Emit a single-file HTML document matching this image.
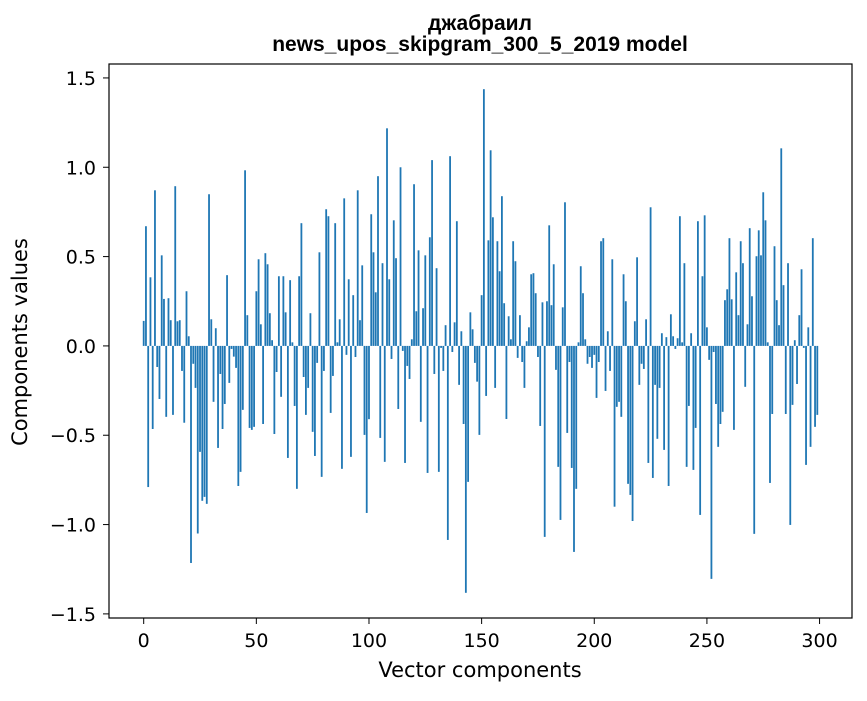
<!DOCTYPE html>
<html><head><meta charset="utf-8"><style>
body{margin:0;background:#fff}
svg text{font-family:"DejaVu Sans","Liberation Sans",sans-serif;fill:#000}
svg text.title{font-family:"Liberation Sans","DejaVu Sans",sans-serif}
</style></head><body>
<svg id="chart" width="867" height="696" xmlns="http://www.w3.org/2000/svg">
<rect width="867" height="696" fill="#fff"/>
<text class="title" x="480" y="30" text-anchor="middle" font-size="21" font-weight="bold">джабраил</text>
<text class="title" x="480" y="51" text-anchor="middle" font-size="21" font-weight="bold">news_upos_skipgram_300_5_2019 model</text>
<g id="bars"></g>
<rect x="109" y="64" width="743" height="554" fill="none" stroke="#000" stroke-width="1.2"/>
<g id="xticks"></g>
<g id="yticks"></g>
<text x="480" y="677" text-anchor="middle" font-size="21">Vector components</text>
<text transform="translate(27,342) rotate(-90)" text-anchor="middle" font-size="21">Components values</text>
</svg>
<script>
const values = [0.14,0.67,-0.79,0.384,-0.465,0.871,-0.118,-0.297,0.507,0.263,
-0.397,0.267,0.144,-0.386,0.894,0.138,0.144,-0.14,-0.43,0.306,
0.054,-1.215,-0.1,-0.235,-1.05,-0.593,-0.867,-0.845,-0.884,0.849,
0.149,-0.313,0.099,-0.571,-0.157,-0.465,-0.325,0.396,-0.207,-0.017,
-0.06,-0.123,-0.784,-0.705,-0.358,0.983,0.172,-0.459,-0.47,-0.453,
0.306,0.485,0.121,-0.437,0.519,0.457,0.183,0.032,-0.493,-0.146,
0.39,-0.285,0.39,0.188,-0.627,0.368,0.02,-0.336,-0.8,0.39,0.687,
-0.174,-0.386,-0.235,0.183,-0.481,-0.616,-0.095,0.524,-0.733,-0.14,
0.765,0.726,-0.375,-0.168,0.687,0.02,0.149,-0.688,0.826,-0.05,
0.373,-0.621,0.284,-0.062,0.871,0.144,0.451,-0.498,-0.935,
-0.41,0.737,0.524,0.3,0.95,-0.515,0.463,-0.649,1.218,0.373,
-0.073,0.703,0.491,-0.353,1.0,-0.028,-0.655,-0.112,-0.185,0.037,
0.905,0.194,0.535,-0.425,0.211,0.507,-0.711,0.608,1.04,-0.157,
0.435,-0.705,-0.011,-0.14,0.116,-1.086,1.062,-0.034,0.132,0.698,
-0.218,0.082,-0.437,-1.382,-0.761,0.188,0.093,-0.095,-0.2,-0.498,
0.284,1.437,-0.28,0.591,1.095,0.72,-0.235,0.586,0.418,0.838,
0.239,-0.409,0.166,0.037,0.586,0.474,-0.067,0.172,-0.09,-0.235,
0.026,0.104,0.401,0.407,0.295,-0.062,-0.448,0.244,-1.069,0.25,
0.675,0.228,0.457,-0.134,-0.677,-0.974,0.216,0.804,-0.487,-0.09,
-0.683,-1.153,-0.8,0.02,0.446,0.295,0.037,-0.1,-0.062,-0.123,
-0.05,-0.291,-0.09,0.586,0.603,-0.252,0.082,-0.14,0.485,-0.9,
-0.341,-0.313,-0.397,0.401,0.25,-0.772,-0.834,-0.98,0.138,0.496,
-0.218,-0.1,-0.129,0.149,-0.655,0.776,-0.739,-0.218,-0.52,-0.235,
0.071,-0.582,0.049,-0.784,0.177,0.054,-0.017,0.043,0.726,0.02,
0.463,-0.677,-0.336,0.071,-0.694,-0.459,0.698,-0.946,0.39,0.731,
0.104,-0.078,-1.304,-0.034,-0.325,-0.565,-0.437,-0.369,0.256,0.317,
0.603,0.261,-0.47,0.412,0.172,0.586,0.463,-0.229,0.121,0.659,
0.278,-1.052,0.502,0.647,0.507,0.86,0.703,0.02,-0.767,-0.381,
0.558,0.256,0.116,1.106,0.34,-0.381,0.463,-1.002,-0.33,0.032,
-0.213,0.172,0.429,-0.011,-0.666,0.104,-0.565,0.603,-0.453,-0.386];
const xTickValues = [0,50,100,150,200,250,300];
const yTickValues = [-1.5,-1.0,-0.5,0.0,0.5,1.0,1.5];
const yTickLabels = ["\u22121.5","\u22121.0","\u22120.5","0.0","0.5","1.0","1.5"];

const NS="http://www.w3.org/2000/svg";
const plotL=109, plotR=852, plotT=64, plotB=618;
const xMin=-15.4, xMax=314.4, yMin=-1.523, yMax=1.578;
function xs(v){return plotL+(v-xMin)/(xMax-xMin)*(plotR-plotL);}
function ys(v){return plotB-(v-yMin)/(yMax-yMin)*(plotB-plotT);}
const bars=document.getElementById('bars');
values.forEach((v,i)=>{
  const r=document.createElementNS(NS,'rect');
  const x0=xs(i-0.4), x1=xs(i+0.4);
  const y0=ys(Math.max(v,0)), y1=ys(Math.min(v,0));
  r.setAttribute('x',x0);r.setAttribute('width',x1-x0);
  r.setAttribute('y',y0);r.setAttribute('height',Math.max(y1-y0,0.01));
  r.setAttribute('fill','#1f77b4');
  
  
  bars.appendChild(r);
});
const xt=document.getElementById('xticks');
xTickValues.forEach(v=>{
  const x=xs(v);
  const l=document.createElementNS(NS,'line');
  l.setAttribute('x1',x);l.setAttribute('x2',x);l.setAttribute('y1',plotB);l.setAttribute('y2',plotB+6);
  l.setAttribute('stroke','#000');
  
  
  xt.appendChild(l);
  const t=document.createElementNS(NS,'text');
  t.setAttribute('x',x);t.setAttribute('y',plotB+29);t.setAttribute('text-anchor','middle');t.setAttribute('font-size','19');
  t.textContent=String(v);
  
  
  xt.appendChild(t);
});
const yt=document.getElementById('yticks');
yTickValues.forEach((v,i)=>{
  const y=ys(v);
  const l=document.createElementNS(NS,'line');
  l.setAttribute('x1',plotL-6);l.setAttribute('x2',plotL);l.setAttribute('y1',y);l.setAttribute('y2',y);
  l.setAttribute('stroke','#000');
  
  
  yt.appendChild(l);
  const t=document.createElementNS(NS,'text');
  t.setAttribute('x',96);t.setAttribute('y',y+7);t.setAttribute('text-anchor','end');t.setAttribute('font-size','19');
  t.textContent=yTickLabels[i];
  
  
  yt.appendChild(t);
});
</script>
</body></html>
